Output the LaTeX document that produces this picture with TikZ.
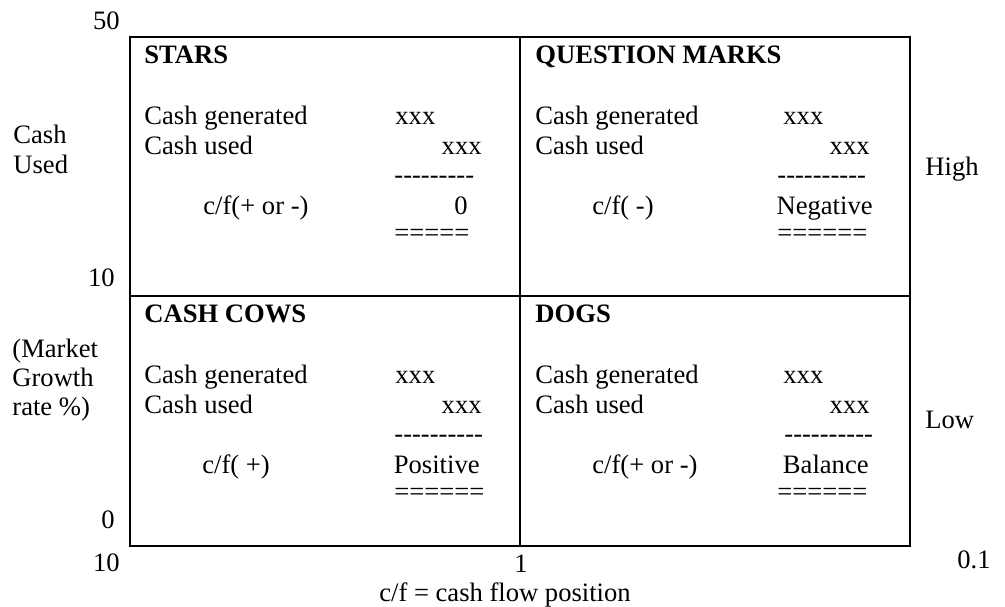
\documentclass[tikz,border=0pt]{standalone}
\usepackage{fontspec}
\setmainfont{Liberation Serif}[Ligatures=TeXOff]

\begin{document}
\begin{tikzpicture}[x=0.5pt,y=-0.5pt,
    txt/.style={inner sep=0pt,anchor=base west,font=\fontsize{13.3}{16}\selectfont},
    rtxt/.style={txt,anchor=base east},
    ctxt/.style={txt,anchor=base},
    head/.style={txt,font=\fontsize{13.3}{16}\selectfont\bfseries}]
    \useasboundingbox (0,0) rectangle (1005,606);
    % frame of the matrix
    \coordinate (nw) at (130,37);
    \coordinate (se) at (910,546);
    \coordinate (nmid) at (520,37);
    \coordinate (smid) at (520,546);
    \coordinate (wmid) at (130,296);
    \coordinate (emid) at (910,296);
    \draw[line width=1.3pt] (nw) rectangle (se);
    \draw[line width=1.3pt] (nmid) -- (smid);
    \draw[line width=1.3pt] (wmid) -- (emid);
    % stars
    \node[head] at (144,63) (stars) {STARS};
    \node[txt] at (144,124) (stars-gen) {Cash generated};
    \node[txt] at (395,124) (stars-genv) {xxx};
    \node[txt] at (144,154) (stars-used) {Cash used};
    \node[rtxt] at (482,154) (stars-usedv) {xxx};
    \node[txt] at (394,183) (stars-dash) {---------};
    \node[txt] at (203,214) (stars-cf) {c/f(+ or -)};
    \node[rtxt] at (468,214) (stars-res) {0};
    \node[txt] at (394,241) (stars-eq) {=====};
    % question marks
    \node[head] at (535,63) (qm) {QUESTION MARKS};
    \node[txt] at (535,124) (qm-gen) {Cash generated};
    \node[txt] at (783,124) (qm-genv) {xxx};
    \node[txt] at (535,154) (qm-used) {Cash used};
    \node[rtxt] at (870,154) (qm-usedv) {xxx};
    \node[txt] at (777,183) (qm-dash) {----------};
    \node[txt] at (592,214) (qm-cf) {c/f( -)};
    \node[rtxt] at (873,214) (qm-res) {Negative};
    \node[txt] at (777,241) (qm-eq) {======};
    % cash cows
    \node[head] at (144,322) (cows) {CASH COWS};
    \node[txt] at (144,383) (cows-gen) {Cash generated};
    \node[txt] at (395,383) (cows-genv) {xxx};
    \node[txt] at (144,413) (cows-used) {Cash used};
    \node[rtxt] at (482,413) (cows-usedv) {xxx};
    \node[txt] at (394,442) (cows-dash) {----------};
    \node[txt] at (202,473) (cows-cf) {c/f( +)};
    \node[rtxt] at (480,473) (cows-res) {Positive};
    \node[txt] at (394,500) (cows-eq) {======};
    % dogs
    \node[head] at (535,322) (dogs) {DOGS};
    \node[txt] at (535,383) (dogs-gen) {Cash generated};
    \node[txt] at (783,383) (dogs-genv) {xxx};
    \node[txt] at (535,413) (dogs-used) {Cash used};
    \node[rtxt] at (870,413) (dogs-usedv) {xxx};
    \node[txt] at (784,442) (dogs-dash) {----------};
    \node[txt] at (592,473) (dogs-cf) {c/f(+ or -)};
    \node[rtxt] at (869,473) (dogs-res) {Balance};
    \node[txt] at (777,500) (dogs-eq) {======};
    % vertical axis
    \node[rtxt] at (120,29) (y50) {50};
    \node[rtxt] at (115,286) (y10) {10};
    \node[rtxt] at (115,528) (y0) {0};
    \node[txt] at (13,143) (ycash) {Cash};
    \node[txt] at (13,173) (yused) {Used};
    \node[txt] at (12,357) (ymkt) {(Market};
    \node[txt] at (12,386) (ygrowth) {Growth};
    \node[txt] at (12,415) (yrate) {rate \%)};
    \node[txt] at (925,175) (high) {High};
    \node[txt] at (925,428) (low) {Low};
    % horizontal axis
    \node[rtxt] at (120,571) (x10) {10};
    \node[ctxt] at (521,572) (x1) {1};
    \node[txt] at (957,568) (x01) {0.1};
    \node[ctxt] at (505,601) (xlabel) {c/f = cash flow position};
\end{tikzpicture}
\end{document}
